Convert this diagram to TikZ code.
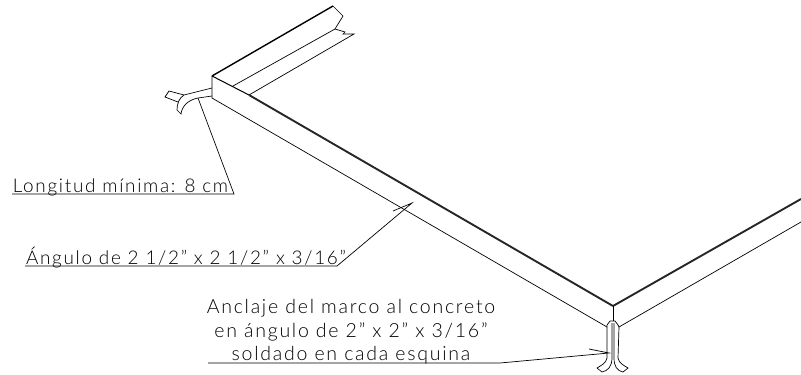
\documentclass[tikz,border=0pt]{standalone}
\usepackage{fontspec}
\setmainfont[LetterSpace=9]{Lato Light}
\tikzset{
    thin line/.style={line width=0.7pt,black},
    heavy line/.style={line width=1.9pt,black!85},
    note/.style={inner sep=0pt,anchor=base,font=\fontsize{19.5}{21}\selectfont},
    short note/.style={note,font=\fontsize{18.9}{21}\selectfont}
}
\begin{document}
\begin{tikzpicture}[x=1pt,y=-1pt]
        \useasboundingbox (0,0) rectangle (801,375);

        \coordinate (cornerA) at (212,76);
        \coordinate (cornerAlow) at (212,98);
        \coordinate (farTop) at (333,6);
        \coordinate (breakA) at (343,16);
        \coordinate (breakB) at (335,29);
        \coordinate (flangeA) at (233,86);
        \coordinate (flangeB) at (249,95);
        \coordinate (flangeEnd) at (354,34);
        \coordinate (cornerB) at (613,306);
        \coordinate (rightTop) at (801,199);
        \coordinate (rightLow) at (801,222);
        \coordinate (lowB) at (607,327);
        \coordinate (lowC) at (619,327);

        \draw [line width=1.4pt] (cornerA) -- (farTop);
        \draw [thin line] (farTop) -- (breakA) -- (breakB);
        \draw [thin line] (flangeA) -- (breakB) -- (345,32) -- (343,34) -- (flangeEnd) -- (flangeB);
        \draw [thin line] (cornerA) -- (cornerAlow) -- (lowB);
        \draw [line width=1pt] (cornerA) -- (flangeB);
        \draw [heavy line] (flangeB) -- (cornerB);
        \draw [heavy line] (cornerB) -- (rightTop);
        \draw [thin line] (lowC) -- (rightLow);
        \draw [thin line,line width=1pt] (cornerB) -- (613,321);

        % anchor at the near corner
        \draw [thin line] (212,88) -- (184,95) .. controls (179,98) and (177,104) .. (177,110) -- (181,114) .. controls (182,106) and (188,100) .. (198,98) -- (212,96);
        \draw [thin line] (184,95) -- (169,91) -- (165,97) -- (178,102);

        % anchor at the far corner
        \draw [thin line] (lowB) -- (607,358) .. controls (606,363) and (602,365) .. (597,368) -- (602,372) .. controls (608,371) and (612,366) .. (612,358) -- (612,323);
        \draw [thin line] (lowC) -- (618,358) .. controls (619,363) and (623,365) .. (628,368) -- (623,372) .. controls (617,371) and (614,366) .. (614,358) -- (614,323);
        \draw [thin line] (lowB) -- (607,325) -- (610,321) -- (615,321) -- (618,325) -- (lowC);

        \node[short note] (lengthnote) at (120.5,192) {Longitud mínima:\hspace{9pt}8 cm};
        \coordinate (lengthfoot) at (12,194);
        \coordinate (lengthkink) at (234,194);
        \coordinate (lengthtip) at (198,98);
        \draw [thin line] (lengthfoot) -- (lengthkink) -- (lengthtip);

        \node[short note] (anglenote) at (186,264) {Ángulo de 2 1/2" x 2 1/2" x 3/16"};
        \coordinate (anglefoot) at (25,266);
        \coordinate (anglekink) at (337,266);
        \coordinate (angletip) at (412,203);
        \coordinate (anglebarb) at (393,211);
        \draw [thin line] (anglefoot) -- (anglekink) -- (angletip) -- (anglebarb);

        \node[note] (anchornoteA) at (351,313) {Anclaje del marco al concreto};
        \node[note] (anchornoteB) at (351,337) {en ángulo de 2" x 2" x 3/16"};
        \node[note] (anchornoteC) at (351,360) {soldado en cada esquina};
        \coordinate (anchorfoot) at (208,363);
        \coordinate (anchorkink) at (500,363);
        \coordinate (anchortip) at (609,353);
        \coordinate (anchorbarb) at (589,349);
        \draw [thin line] (anchorfoot) -- (anchorkink) -- (anchortip) -- (anchorbarb);
    \end{tikzpicture}
\end{document}
